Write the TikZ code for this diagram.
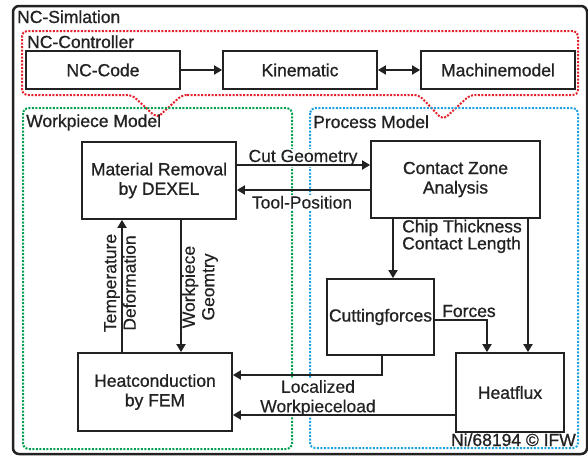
\documentclass[tikz,border=0pt]{standalone}
\usepackage{fontspec}
\setmainfont{Liberation Sans}[FakeBold=0.3]
\newfontfamily\heavyfont{Liberation Sans}[FakeBold=0.9]
\usetikzlibrary{arrows.meta,calc}
\definecolor{ink}{HTML}{222222}
\definecolor{nred}{HTML}{E5202A}
\definecolor{ngreen}{HTML}{00A050}
\definecolor{nblue}{HTML}{1EA0E0}
\begin{document}
\begin{tikzpicture}[x=1pt,y=-1pt,
  font=\fontsize{17.5}{19.5}\selectfont, text=ink,
  box/.style={draw=ink, line width=1.8pt, inner sep=0pt, align=center, font=\fontsize{17.5}{19.5}\heavyfont},
  conn/.style={draw=ink, line width=1.8pt},
  arr/.style={conn, -{Triangle[length=8pt,width=9pt]}},
  biarr/.style={conn, {Triangle[length=8pt,width=9pt]}-{Triangle[length=8pt,width=9pt]}},
  dots/.style={line width=2pt, dash pattern=on 2pt off 1.5pt, rounded corners=5pt},
  lbl/.style={inner sep=1pt, fill=white},
  title/.style={inner sep=0pt, anchor=base west, font=\fontsize{17.5}{19.5}\heavyfont}]
\useasboundingbox (0,0) rectangle (588,455);
\fill[white] (0,0) rectangle (588,455);

% outer frame
\draw[ink, line width=2.5pt, rounded corners=6pt] (13,6) rectangle (587,454);
\node[title] (tsim) at (17,23) {NC-Simlation};

% dotted group frames
\draw[dots, nred] (182,95) -- (419,95) -- (443,120) -- (470,95) -- (578,95)
  -- (578,31) -- (22,31) -- (22,95) -- (132,95) -- (157,118) -- cycle;
\draw[dots, ngreen] (23,108) rectangle (292,449);
\draw[dots, nblue] (310,108) rectangle (578,448);
\node[title] (tctl) at (27,48) {NC-Controller};
\node[title] (twp) at (26,127) {Workpiece Model};
\node[title] (tpm) at (313,128) {Process Model};
\node[title, anchor=base east] (tcopy) at (576,446) {Ni/68194 © IFW};

% boxes
\node[box, minimum width=154pt, minimum height=38pt] (ncc) at (103,70) {NC-Code};
\node[box, minimum width=154pt, minimum height=38pt] (kin) at (300,70) {Kinematic};
\node[box, minimum width=154pt, minimum height=38pt] (mach) at (498,70) {Machinemodel};
\node[box, minimum width=154pt, minimum height=77pt] (mat) at (159,180.5) {Material Removal\\by DEXEL};
\node[box, minimum width=169pt, minimum height=77pt] (cza) at (455.5,179.5) {Contact Zone\\Analysis};
\node[box, minimum width=107pt, minimum height=76pt] (cut) at (380.5,317) {Cuttingforces};
\node[box, minimum width=108pt, minimum height=79pt] (hf) at (510,392.5) {Heatflux};
\node[box, minimum width=154pt, minimum height=78pt] (hc) at (155,392) {Heatconduction\\by FEM};

% connector labels
\node[lbl, anchor=base] (lcg) at (303,162) {Cut Geometry};
\node[lbl, anchor=base] (ltp) at (302,208.5) {Tool-Position};
\node[inner sep=0pt, anchor=north west, align=left, font=\fontsize{17.5}{17}\heavyfont] (lch) at (402,219.5) {Chip Thickness\\Contact Length};
\node[inner sep=0pt, anchor=base west, font=\fontsize{17.5}{19.5}\heavyfont] (lfo) at (442,317) {Forces};
\node[lbl, align=center] (llw) at (318,398) {Localized\\Workpieceload};
\node[inner sep=0pt, align=center, rotate=90] (ltd) at (120,283) {Temperature\\Deformation};
\node[inner sep=0pt, align=center, rotate=90] (lwg) at (200,287) {Workpiece\\Geomtry};

% connectors
\draw[arr] (ncc.east) -- (kin.west);
\draw[biarr] (kin.east) -- (mach.west);

\coordinate (cg1) at ([yshift=15.5pt]mat.east);
\draw[arr] (cg1) -- (cg1 -| cza.west);
\coordinate (tp1) at ([yshift=-10.5pt]cza.west);
\draw[arr] (tp1) -- (tp1 -| mat.east);

\coordinate (ch1) at ([xshift=-62.5pt]cza.south);
\draw[arr] (ch1) -- (ch1 |- cut.north);
\coordinate (ch2) at ([xshift=72.5pt]cza.south);
\draw[arr] (ch2) -- (ch2 |- hf.north);

\coordinate (fo1) at ([yshift=-3pt]cut.east);
\coordinate (fo2) at ([xshift=-23pt]hf.north);
\draw[arr] (fo1) -| (fo2);

\coordinate (lw1) at ([xshift=1.5pt]cut.south);
\coordinate (lw2) at ([yshift=17pt]hc.east);
\draw[arr] (lw1) |- (lw2);

\coordinate (hf1) at ([yshift=-22.5pt]hf.west);
\draw[arr] (hf1) -- (hf1 -| hc.east);

\coordinate (td1) at ([xshift=-33pt]hc.north);
\draw[arr] (td1) -- (td1 |- mat.south);
\coordinate (wg1) at ([xshift=22pt]mat.south);
\draw[arr] (wg1) -- (wg1 |- hc.north);
\end{tikzpicture}
\end{document}
